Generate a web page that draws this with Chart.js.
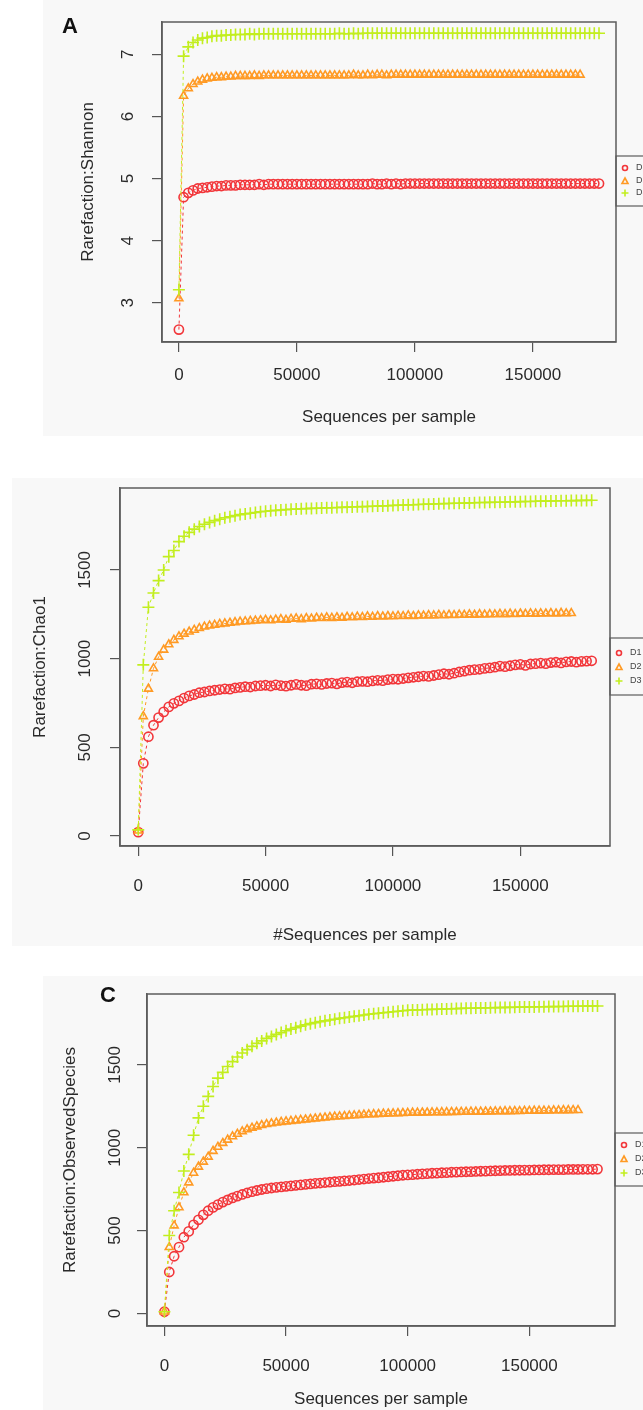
<!DOCTYPE html>
<html>
<head>
<meta charset="utf-8">
<script src="https://cdn.jsdelivr.net/npm/chart.js@4.4.1/dist/chart.umd.min.js"></script>
<style>
  html, body { margin:0; padding:0; background:#fff; overflow:hidden; }
  #wrap { position:relative; width:643px; height:1410px; }
  .bg { position:absolute; background:#f8f8f8; }
  canvas { position:absolute; left:0; }
  .tag { position:absolute; font:bold 22px "Liberation Sans", Arial, sans-serif; line-height:22px; color:#111; }
</style>
</head>
<body>
<div id="wrap">
  <div class="bg" style="left:43px;top:0;width:600px;height:436px"></div>
  <div class="bg" style="left:12px;top:478px;width:631px;height:468px"></div>
  <div class="bg" style="left:43px;top:976px;width:600px;height:434px"></div>
  <canvas id="cA" width="643" height="440" style="top:0"></canvas>
  <canvas id="cB" width="643" height="480" style="top:470px"></canvas>
  <canvas id="cC" width="643" height="450" style="top:960px"></canvas>
  <div class="tag" style="left:62px;top:15px">A</div>
  <div class="tag" style="left:100px;top:984px">C</div>
</div>
<script>
// rarefaction depths (sequences per sample); D2 stops at 170000
const depths = [
  10, 2000, 4000, 6000, 8000, 10000, 12000, 14000, 16000, 18000,
  20000, 22000, 24000, 26000, 28000, 30000, 32000, 34000, 36000, 38000,
  40000, 42000, 44000, 46000, 48000, 50000, 52000, 54000, 56000, 58000,
  60000, 62000, 64000, 66000, 68000, 70000, 72000, 74000, 76000, 78000,
  80000, 82000, 84000, 86000, 88000, 90000, 92000, 94000, 96000, 98000,
  100000, 102000, 104000, 106000, 108000, 110000, 112000, 114000, 116000, 118000,
  120000, 122000, 124000, 126000, 128000, 130000, 132000, 134000, 136000, 138000,
  140000, 142000, 144000, 146000, 148000, 150000, 152000, 154000, 156000, 158000,
  160000, 162000, 164000, 166000, 168000, 170000, 172000, 174000, 176000, 178000
];
const sampleNames = ['D1', 'D2', 'D3'];
const xTicks = [0, 50000, 100000, 150000];
const shannonTicks = [3, 4, 5, 6, 7];
const countTicks = [0, 500, 1000, 1500];

// --- A: Shannon
const shannonD1 = [
  2.57, 4.70, 4.77, 4.81, 4.84, 4.85, 4.86, 4.87, 4.88, 4.88,
  4.89, 4.89, 4.89, 4.90, 4.90, 4.90, 4.90, 4.91, 4.90, 4.91,
  4.91, 4.91, 4.91, 4.91, 4.91, 4.91, 4.91, 4.91, 4.91, 4.91,
  4.91, 4.91, 4.91, 4.91, 4.91, 4.91, 4.91, 4.91, 4.91, 4.91,
  4.91, 4.92, 4.91, 4.91, 4.92, 4.91, 4.92, 4.91, 4.92, 4.92,
  4.92, 4.92, 4.92, 4.92, 4.92, 4.92, 4.92, 4.92, 4.92, 4.92,
  4.92, 4.92, 4.92, 4.92, 4.92, 4.92, 4.92, 4.92, 4.92, 4.92,
  4.92, 4.92, 4.92, 4.92, 4.92, 4.92, 4.92, 4.92, 4.92, 4.92,
  4.92, 4.92, 4.92, 4.92, 4.92, 4.92, 4.92, 4.92, 4.92, 4.92
];
const shannonD2 = [
  3.07, 6.33, 6.45, 6.52, 6.56, 6.59, 6.61, 6.62, 6.63, 6.63,
  6.64, 6.64, 6.65, 6.65, 6.65, 6.65, 6.66, 6.65, 6.66, 6.66,
  6.66, 6.66, 6.66, 6.66, 6.66, 6.66, 6.66, 6.66, 6.66, 6.66,
  6.66, 6.66, 6.66, 6.66, 6.66, 6.66, 6.66, 6.67, 6.66, 6.66,
  6.67, 6.66, 6.67, 6.67, 6.66, 6.67, 6.67, 6.67, 6.67, 6.67,
  6.67, 6.67, 6.67, 6.67, 6.67, 6.67, 6.67, 6.67, 6.67, 6.67,
  6.67, 6.67, 6.67, 6.67, 6.67, 6.67, 6.67, 6.67, 6.67, 6.67,
  6.67, 6.67, 6.67, 6.67, 6.67, 6.67, 6.67, 6.67, 6.67, 6.67,
  6.67, 6.67, 6.67, 6.67, 6.67, 6.67
];
const shannonD3 = [
  3.21, 6.97, 7.12, 7.19, 7.23, 7.26, 7.27, 7.29, 7.30, 7.30,
  7.31, 7.31, 7.32, 7.32, 7.32, 7.33, 7.32, 7.33, 7.33, 7.33,
  7.33, 7.33, 7.33, 7.33, 7.33, 7.33, 7.33, 7.33, 7.33, 7.33,
  7.33, 7.33, 7.33, 7.33, 7.34, 7.33, 7.33, 7.34, 7.33, 7.34,
  7.34, 7.34, 7.34, 7.34, 7.34, 7.34, 7.34, 7.34, 7.34, 7.34,
  7.34, 7.34, 7.34, 7.34, 7.34, 7.34, 7.34, 7.34, 7.34, 7.34,
  7.34, 7.34, 7.34, 7.34, 7.34, 7.34, 7.34, 7.34, 7.34, 7.34,
  7.34, 7.34, 7.34, 7.34, 7.34, 7.34, 7.34, 7.34, 7.34, 7.34,
  7.34, 7.34, 7.34, 7.34, 7.34, 7.34, 7.34, 7.34, 7.34, 7.34
];

// --- B: Chao1
const chaoD1 = [
  22, 410, 560, 625, 668, 700, 728, 748, 762, 778,
  790, 798, 808, 812, 818, 822, 826, 830, 828, 835,
  838, 842, 840, 846, 848, 850, 846, 852, 848, 845,
  850, 855, 850, 848, 856, 858, 855, 860, 862, 858,
  865, 868, 864, 870, 872, 870, 875, 878, 876, 882,
  885, 884, 888, 892, 895, 898, 902, 900, 905, 910,
  915, 912, 918, 925, 930, 935, 938, 940, 945, 948,
  952, 958, 955, 960, 965, 968, 962, 970, 972, 975,
  972, 978, 980, 976, 982, 984, 980, 985, 986, 988
];
const chaoD2 = [
  30, 675, 830, 945, 1010, 1050, 1080, 1105, 1125, 1140,
  1152, 1162, 1172, 1180, 1186, 1190, 1195, 1198, 1202, 1205,
  1208, 1210, 1212, 1214, 1216, 1218, 1215, 1220, 1222, 1218,
  1224, 1226, 1222, 1228, 1225, 1230, 1228, 1232, 1229, 1233,
  1230, 1235, 1232, 1236, 1234, 1238, 1235, 1239, 1237, 1240,
  1238, 1241, 1239, 1243, 1240, 1244, 1242, 1245, 1243, 1246,
  1244, 1247, 1245, 1248, 1246, 1249, 1247, 1250, 1248, 1251,
  1249, 1252, 1250, 1253, 1251, 1254, 1252, 1255, 1253, 1255,
  1254, 1256, 1254, 1257, 1255, 1256
];
const chaoD3 = [
  35, 965, 1290, 1370, 1440, 1500, 1575, 1610, 1660, 1690,
  1712, 1730, 1745, 1758, 1768, 1778, 1786, 1794, 1800, 1806,
  1812, 1816, 1820, 1824, 1828, 1831, 1834, 1836, 1838, 1840,
  1842, 1843, 1845, 1846, 1847, 1848, 1849, 1850, 1851, 1852,
  1853, 1854, 1855, 1856, 1857, 1858, 1859, 1860, 1861, 1862,
  1864, 1865, 1866, 1867, 1868, 1869, 1870, 1871, 1872, 1873,
  1874, 1875, 1876, 1876, 1877, 1878, 1879, 1880, 1880, 1881,
  1882, 1882, 1883, 1884, 1884, 1885, 1886, 1886, 1887, 1888,
  1888, 1889, 1889, 1890, 1890, 1891, 1891, 1892, 1892, 1893
];

// --- C: Observed species
const obsD1 = [
  10, 250, 345, 400, 460, 495, 535, 565, 595, 620,
  640, 657, 672, 685, 697, 708, 718, 727, 735, 742,
  748, 753, 757, 761, 764, 767, 770, 773, 776, 779,
  782, 785, 787, 790, 792, 795, 797, 800, 802, 805,
  808, 811, 814, 817, 819, 822, 825, 828, 831, 834,
  836, 838, 840, 842, 844, 846, 847, 849, 850, 852,
  853, 854, 855, 856, 857, 858, 859, 860, 861, 862,
  863, 863, 864, 864, 865, 865, 866, 866, 867, 867,
  868, 868, 868, 869, 869, 869, 870, 870, 870, 871
];
const obsD2 = [
  10, 400, 530, 640, 730, 790, 848, 885, 915, 945,
  980, 1005, 1028, 1048, 1068, 1083, 1098, 1110, 1120, 1128,
  1136, 1142, 1147, 1151, 1155, 1158, 1161, 1164, 1167, 1170,
  1173, 1176, 1179, 1182, 1185, 1187, 1189, 1191, 1193, 1195,
  1197, 1199, 1201, 1202, 1203, 1205, 1206, 1207, 1208, 1209,
  1210, 1211, 1211, 1212, 1212, 1213, 1213, 1214, 1214, 1215,
  1215, 1216, 1216, 1217, 1217, 1217, 1218, 1218, 1219, 1219,
  1220, 1220, 1221, 1221, 1222, 1222, 1223, 1223, 1224, 1224,
  1225, 1225, 1226, 1226, 1227, 1227
];
const obsD3 = [
  10, 470, 620, 730, 860, 960, 1075, 1180, 1250, 1310,
  1370, 1420, 1455, 1490, 1520, 1548, 1572, 1592, 1612, 1630,
  1645, 1660, 1672, 1684, 1695, 1706, 1716, 1725, 1734, 1742,
  1749, 1755, 1761, 1766, 1771, 1776, 1781, 1785, 1789, 1793,
  1797, 1801, 1806, 1809, 1812, 1815, 1818, 1821, 1824, 1827,
  1830, 1831, 1832, 1833, 1834, 1835, 1836, 1837, 1838, 1839,
  1840, 1841, 1842, 1842, 1843, 1844, 1844, 1845, 1846, 1846,
  1847, 1847, 1848, 1849, 1849, 1850, 1850, 1851, 1851, 1852,
  1852, 1853, 1853, 1854, 1854, 1854, 1855, 1855, 1856, 1856
];

const colors = ['#f2363a', '#ff9a24', '#c2ee1e'];
const styles = ['circle', 'triangle', 'cross'];
const FONT = '"Liberation Sans", Arial, Helvetica, sans-serif';
const TEXT = '#2a2a2a';

function series(vals, i){
  return {
    label: sampleNames[i],
    data: vals.map((v, k) => ({ x: depths[k], y: v })),
    borderColor: colors[i],
    backgroundColor: 'rgba(0,0,0,0)',
    pointBackgroundColor: 'rgba(0,0,0,0)',
    pointBorderColor: colors[i],
    pointStyle: styles[i],
    pointRadius: i === 2 ? 6 : 4.6,
    pointBorderWidth: 1.6,
    borderWidth: 1,
    borderDash: [3, 3],
    order: 3 - i
  };
}

// R-like frame: box, rotated y tick labels, clipped legend at the right edge
const rFrame = {
  id: 'rFrame',
  afterDraw(chart, args, o){
    const { ctx, chartArea: a } = chart;
    const y = chart.scales.y;
    ctx.save();
    ctx.strokeStyle = '#5c5c5c'; ctx.lineWidth = 1.5;
    ctx.strokeRect(a.left, a.top, a.right - a.left, a.bottom - a.top);

    ctx.fillStyle = TEXT;
    ctx.font = '17px ' + FONT;
    ctx.textAlign = 'center'; ctx.textBaseline = 'middle';
    y.ticks.forEach(t => {
      const py = y.getPixelForValue(t.value);
      ctx.save(); ctx.translate(o.yLabelX, py); ctx.rotate(-Math.PI / 2);
      ctx.fillText(String(t.value), 0, 0);
      ctx.restore();
    });

    // legend box
    const lx = a.right;
    ctx.strokeStyle = '#5c5c5c'; ctx.lineWidth = 1.2;
    ctx.strokeRect(lx, o.legTop, 80, o.legBottom - o.legTop);
    ctx.font = '9px ' + FONT; ctx.textAlign = 'left';
    o.legRows.forEach((ry, i) => {
      const mx = lx + 9;
      ctx.strokeStyle = colors[i]; ctx.fillStyle = colors[i]; ctx.lineWidth = 1.6;
      ctx.beginPath();
      if (styles[i] === 'circle') { ctx.arc(mx, ry, 2.5, 0, Math.PI * 2); ctx.stroke(); }
      else if (styles[i] === 'triangle') { ctx.moveTo(mx, ry - 3); ctx.lineTo(mx + 3, ry + 2.5); ctx.lineTo(mx - 3, ry + 2.5); ctx.closePath(); ctx.stroke(); }
      else { ctx.moveTo(mx - 3.5, ry); ctx.lineTo(mx + 3.5, ry); ctx.moveTo(mx, ry - 3.5); ctx.lineTo(mx, ry + 3.5); ctx.stroke(); }
      ctx.fillStyle = '#444';
      ctx.fillText(sampleNames[i], lx + 20, ry);
    });
    ctx.restore();
  }
};

function makeChart(id, sets, cfg){
  return new Chart(document.getElementById(id), {
    type: 'line',
    data: { datasets: sets },
    plugins: [rFrame],
    options: {
      responsive: false, animation: false, devicePixelRatio: 1,
      layout: { padding: { left: 0, right: cfg.padRight, top: cfg.padTop, bottom: 0 } },
      plugins: {
        legend: { display: false }, tooltip: { enabled: false },
        rFrame: { yLabelX: cfg.yLabelX, legTop: cfg.legTop, legBottom: cfg.legBottom, legRows: cfg.legRows }
      },
      scales: {
        x: {
          type: 'linear', min: -7150, max: 185200,
          afterFit: s => { s.height = cfg.xHeight; },
          afterBuildTicks: s => { s.ticks = xTicks.map(v => ({ value: v })); },
          ticks: { color: TEXT, font: { family: FONT, size: 17 }, padding: cfg.xTickPad, maxRotation: 0, autoSkip: false, callback: v => String(v) },
          grid: { drawOnChartArea: false, drawTicks: true, tickLength: 10, color: '#555', lineWidth: 1.2 },
          border: { display: true, color: '#5c5c5c', width: 1.5 },
          title: { display: true, text: cfg.xTitle, color: TEXT, font: { family: FONT, size: 17 }, padding: { top: 0, bottom: cfg.xTitlePad } }
        },
        y: {
          type: 'linear', min: cfg.yMin, max: cfg.yMax,
          afterFit: s => { s.width = cfg.yWidth; },
          afterBuildTicks: s => { s.ticks = cfg.yTicks.map(v => ({ value: v })); },
          ticks: { autoSkip: false, callback: () => '' },
          grid: { drawOnChartArea: false, drawTicks: true, tickLength: 10, color: '#555', lineWidth: 1.2 },
          border: { display: true, color: '#5c5c5c', width: 1.5 },
          title: { display: true, text: cfg.yTitle, color: TEXT, font: { family: FONT, size: 17 }, padding: { top: cfg.yTitlePad, bottom: 0 } }
        }
      }
    }
  });
}

makeChart('cA', [series(shannonD1, 0), series(shannonD2, 1), series(shannonD3, 2)], {
  padRight: 27, padTop: 22, yWidth: 162, xHeight: 98, xTickPad: 13, xTitlePad: 12,
  yMin: 2.37, yMax: 7.52, yTicks: shannonTicks, yLabelX: 128, yTitlePad: 78,
  xTitle: 'Sequences per sample', yTitle: 'Rarefaction:Shannon',
  legTop: 156, legBottom: 206, legRows: [168, 181, 193]
});

makeChart('cB', [series(chaoD1, 0), series(chaoD2, 1), series(chaoD3, 2)], {
  padRight: 33, padTop: 18, yWidth: 120, xHeight: 104, xTickPad: 20, xTitlePad: 4,
  yMin: -56, yMax: 1962, yTicks: countTicks, yLabelX: 85, yTitlePad: 30,
  xTitle: '#Sequences per sample', yTitle: 'Rarefaction:Chao1',
  legTop: 168, legBottom: 225, legRows: [183, 197, 211]
});

makeChart('cC', [series(obsD1, 0), series(obsD2, 1), series(obsD3, 2)], {
  padRight: 28, padTop: 34, yWidth: 147, xHeight: 84, xTickPad: 20, xTitlePad: 0,
  yMin: -76, yMax: 1928, yTicks: countTicks, yLabelX: 115, yTitlePad: 60,
  xTitle: 'Sequences per sample', yTitle: 'Rarefaction:ObservedSpecies',
  legTop: 173, legBottom: 226, legRows: [185, 199, 213]
});
</script>
</body>
</html>
